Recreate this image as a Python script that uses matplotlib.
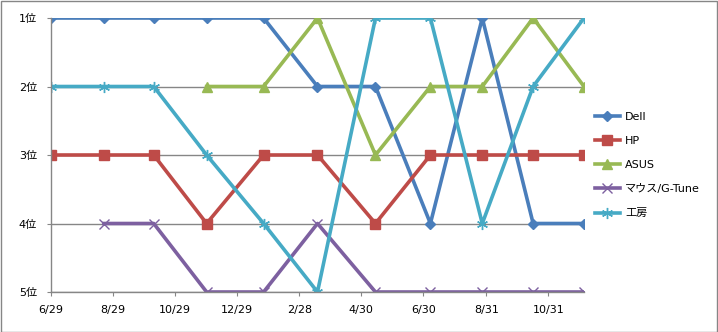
import datetime as dt
import matplotlib
matplotlib.use("Agg")
import matplotlib.pyplot as plt
from matplotlib.patches import Rectangle

plt.rcParams['font.family'] = ['DejaVu Sans', 'Noto Sans CJK JP']
plt.rcParams['font.size'] = 8

# survey dates
dates = ["2014-06-29", "2014-08-20", "2014-10-08", "2014-11-29", "2015-01-24",
         "2015-03-18", "2015-05-14", "2015-07-07", "2015-08-27", "2015-10-16",
         "2015-12-05"]
dell = [1, 1, 1, 1, 1, 2, 2, 4, 1, 4, 4]
hp = [3, 3, 3, 4, 3, 3, 4, 3, 3, 3, 3]
asus = [None, None, None, 2, 2, 1, 3, 2, 2, 1, 2]
mouse = [None, 4, 4, 5, 5, 4, 5, 5, 5, 5, 5]
koubou = [2, 2, 2, 3, 4, 5, 1, 1, 4, 2, 1]

tick_dates = ["2014-06-29", "2014-08-29", "2014-10-29", "2014-12-29", "2015-02-28",
              "2015-04-30", "2015-06-30", "2015-08-31", "2015-10-31"]
tick_labels = ["6/29", "8/29", "10/29", "12/29", "2/28", "4/30", "6/30", "8/31", "10/31"]
rank_labels = ["1位", "2位", "3位", "4位", "5位"]

X = [dt.datetime.strptime(d, "%Y-%m-%d") for d in dates]
T = [dt.datetime.strptime(d, "%Y-%m-%d") for d in tick_dates]

def clean(vals):
    return [float('nan') if v is None else v for v in vals]

fig = plt.figure(figsize=(7.18, 3.32), dpi=100)
ax = fig.add_axes([51 / 718, 40 / 332, 533 / 718, 274 / 332])

gray = '#868686'
ax.plot(X, clean(dell), color='#4A7EBB', lw=2.6, marker='D', ms=5, label='Dell')
ax.plot(X, clean(hp), color='#BE4B48', lw=2.6, marker='s', ms=7, label='HP')
ax.plot(X, clean(asus), color='#98B954', lw=2.6, marker='^', ms=7.5, label='ASUS')
ax.plot(X, clean(mouse), color='#7D60A0', lw=2.6, marker='x', ms=7, mew=1,
        label='マウス/G-Tune')
ax.plot(X, clean(koubou), color='#46AAC5', lw=2.6, marker=(6, 2, 0), ms=8, mew=1,
        label='工房')

ax.set_xlim(X[0], X[-1])
ax.set_ylim(5, 1)
ax.set_yticks([1, 2, 3, 4, 5])
ax.set_yticklabels(rank_labels)
ax.set_xticks(T)
ax.set_xticklabels(tick_labels)

ax.grid(axis='y', color=gray, lw=1)
ax.set_axisbelow(True)
for s in ['top', 'right']:
    ax.spines[s].set_visible(False)
for s in ['left', 'bottom']:
    ax.spines[s].set_color(gray)
    ax.spines[s].set_linewidth(1)
ax.tick_params(axis='x', colors=gray, labelcolor='black', length=3, pad=6)
ax.tick_params(axis='y', colors=gray, labelcolor='black', length=3, pad=7)

fig.legend(loc='center left', bbox_to_anchor=(589 / 718, 1 - 165 / 332),
           frameon=False, fontsize=8, labelspacing=1.28, handlelength=2.3,
           handletextpad=0.45, borderpad=0)

fig.patches.append(Rectangle((0.5 / 718, 0.5 / 332), 716.5 / 718, 330.5 / 332,
                             transform=fig.transFigure, fill=False,
                             edgecolor=gray, lw=1))

fig.savefig('out.png', dpi=100)
